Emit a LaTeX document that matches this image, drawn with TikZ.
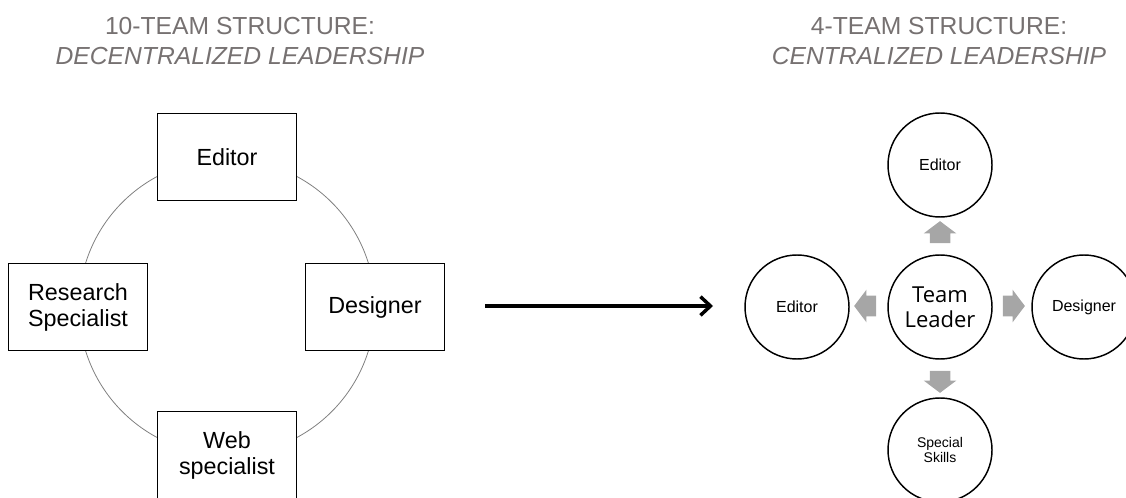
\documentclass[tikz,border=0pt]{standalone}
\usepackage{fontspec}
\setmainfont{Liberation Sans}
\newfontfamily\leaderfont{Open Sans}
\usetikzlibrary{shapes.arrows,arrows.meta}

\definecolor{titlegray}{HTML}{767171}
\definecolor{pointergray}{HTML}{A6A6A6}

\tikzset{
	heading/.style={text=titlegray, align=center, font=\fontsize{18.5}{22.5}\selectfont},
	role/.style={draw, line width=1.1pt, fill=white, minimum width=104pt, minimum height=65pt,
		align=center, font=\fontsize{17.5}{19.5}\selectfont},
	member/.style={draw, circle, line width=1.1pt, minimum size=78pt, inner sep=0pt,
		align=center, font=\fontsize{12}{13}\selectfont},
	pointer/.style={single arrow, fill=pointergray, inner xsep=0pt, inner ysep=7.5pt,
		minimum height=16.5pt, single arrow head extend=4.5pt, single arrow tip angle=106}
}

\begin{document}
\begin{tikzpicture}[x=0.75pt, y=-0.75pt]
	\useasboundingbox (0,0) rectangle (1126,498);
	% Headings
	\node[heading] (title-ten) at (240,41) {10-TEAM STRUCTURE:\\\textit{DECENTRALIZED LEADERSHIP}};
	\node[heading] (title-four) at (939,41) {4-TEAM STRUCTURE:\\\textit{CENTRALIZED LEADERSHIP}};

	% Ring of equal roles
	\coordinate (hub) at (227,307);
	\draw[gray, line width=0.6pt] (hub) circle[radius=148];
	\node[role] (editor) at (227,157) {Editor};
	\node[role] (research) at (78,307) {Research\\Specialist};
	\node[role] (designer) at (375,307) {Designer};
	\node[role] (web) at (227,455) {Web\\specialist};

	% Change over
	\coordinate (from) at (485,306);
	\coordinate (to) at (713,306);
	\draw[line width=2.6pt, -{Straight Barb[length=7.5pt, width=14pt]}] (from) -- (to);

	% Leader in the middle
	\node[member, font=\leaderfont\fontsize{16.5}{18.5}\selectfont] (lead) at (940,307) {Team\\Leader};
	\foreach \name/\x/\y/\txt in {top/940/165/Editor, left/797/307/Editor, right/1084/307/Designer} {
		\node[member] (\name) at (\x,\y) {\txt};
	}
	\node[member, font=\fontsize{10.5}{11.3}\selectfont] (bottom) at (940,450) {Special\\Skills};

	% Grey pointers out of the leader
	\node[pointer, rotate=90] (to-top) at (940,236) {};
	\node[pointer, rotate=180] (to-left) at (869,306) {};
	\node[pointer] (to-right) at (1010,306) {};
	\node[pointer, rotate=-90] (to-bottom) at (940,378) {};
\end{tikzpicture}
\end{document}
